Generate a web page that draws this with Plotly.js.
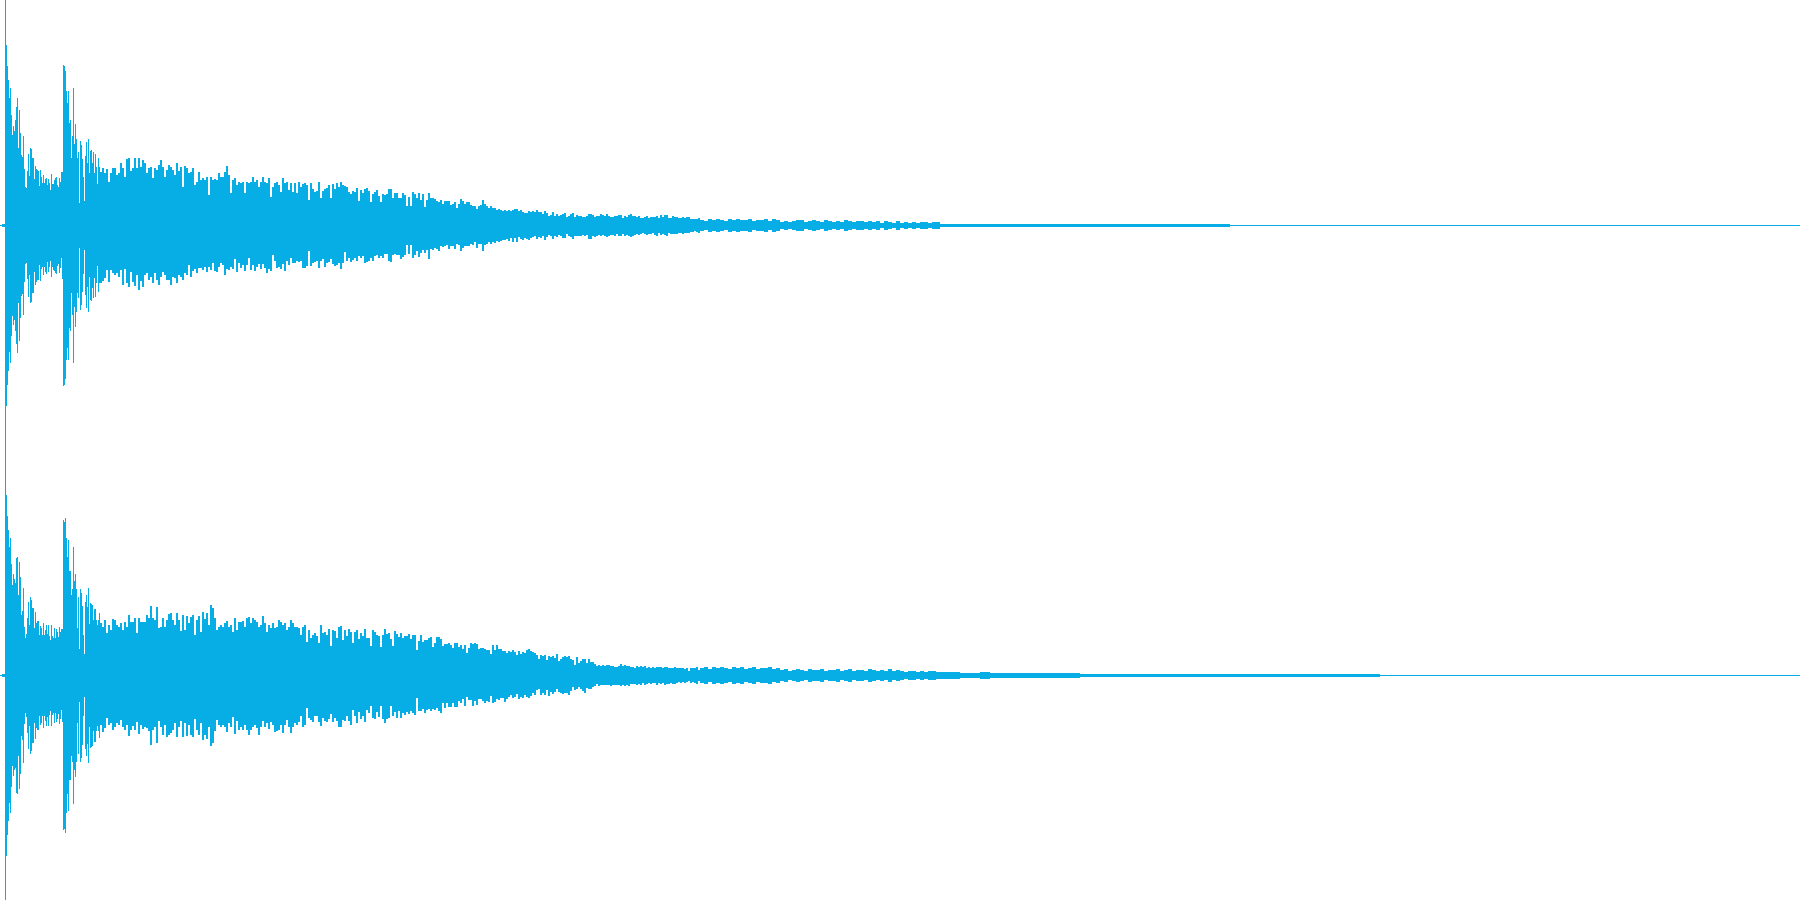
<!DOCTYPE html>
<html>
<head>
<meta charset="utf-8">
<script src="https://cdn.plot.ly/plotly-3.0.1.min.js"></script>
<style>html,body{margin:0;padding:0;background:#fff}#chart{width:1800px;height:900px}</style>
</head>
<body>
<div id="chart"></div>
<script>
// Envelope of a stereo waveform: amplitude on a scale where 225 = full scale.
var leadUpper = [0, 1];
var leadLower = [1, 2];
var leadDurations = [2, 3];
var tailUpper = [0];
var tailLower = [1];
var tailDurations = [400];
var sectionStepA = 1, sectionStepB = 2, sectionStepC = 2, sectionStepD = 4, sectionStepE = 10;

// Channel 1, upper peaks
var ch1UpperA = [
225,180,159,145,127,137,110,90,99,94,
105,118,127,77,115,92,70,68,89,56,
38,37,54,71,49,77,76,67,67,46,
59,56,55,54,39,55,48,42,50,42,
46,47,40,46,42,35,51,41,41,45,
47,48,40,38,47,43,53,53,160,159,
154,134,122,134,102,105,67,89,137,81,
101,86,67,73,22,84,80,66,48,24,
69,83,62,86,52,74,75,62,73,52,
71,58,41,67,58];
var ch1UpperB = [
53,57,52,56,43,52,57,57,50,52,
62,57,48,66,67,54,57,67,57,67,
58,65,62,52,57,58,47,57,55,60,
65,58,48,55,60,58,55,50,62,54,
58,38,59,57,52,53,57,40,43,53,
45,47,45,48,30,48,45,46,45,52,
48,48,53,59,50,32,45,47,40,43,
42,43,32,43,42,43,48,43,45,38,
43,48,43,42,47,28,38,42,43,40,
33,47,42,43,35,42,33,42,32,43];
var ch1UpperC = [
38,41,42,40,25,42,36,33,34,43,
27,34,36,37,40,27,41,36,42,38,
43,40,39,38,33,31,34,33,37,24,
35,32,36,37,34,23,31,33,35,29,
23,31,30,31,36,36,27,32,32,27,
27,32,30,19,28,19,33,31,27,32,
25,31,18,25,32,27,27,26,24,23,
25,21,24,24,24,20,21,23,17,21,
26,24,21,23,23,20,19,19,16,19,
20,25,21,19,17,19,17,17,15,16,
15,14,15,14,15,14,15,16,16,14,
15,13,12,12,14,13,14,13,15,13,
13,11,14,12,9,10,13,9,11,9,
10,11,12,8,9,11,12,8,10,9,
9,8,8,9,11,11,10,8,9,9,
11,10,9,11,9,8,8,9,9,10,
10,7,9,8,10,11,9,9,8,9,
7,7,8,9,7,8,8,8,9,7,
10,8,10,10,7,7,9,8,8,7,
7,8,7,8,8,6,6,6,6,7];
var ch1UpperD = [
5,4,6,5,6,5,4,6,5,6,
5,5,6,4,5,5,6,4,6,5,
3,4,3,4,5,5,3,4,5,4,
3,5,4,3,4,3,5,4,3,4,
4,3,4,3,4,2,4,3,2,4,
2,3,2,3,2,3,3,2,3,3];
var ch1UpperE = [
1,1,1,1,1,1,1,1,1,1,
1,1,1,1,1,1,1,1,1,1,
1,1,1,1,1,1,1,1,1,0,
0,0,0,0,0,0,0,0,0,0,
0,0,0,0,0,0];

// Channel 1, lower peaks
var ch1LowerA = [
225,181,160,146,127,138,111,91,100,95,
106,119,128,78,116,93,71,69,90,57,
39,38,54,72,50,78,77,68,68,47,
60,57,55,55,40,56,44,42,50,42,
47,49,37,47,42,36,52,42,45,46,
48,49,41,39,48,43,33,54,161,160,
154,135,123,135,103,106,68,90,138,82,
102,87,68,73,23,85,80,67,49,25,
70,83,62,87,52,75,76,63,73,53,
72,58,41,67,58];
var ch1LowerB = [
58,56,53,45,57,45,48,50,48,52,
45,60,44,58,62,47,57,61,50,65,
56,62,50,48,55,52,58,48,55,60,
52,47,50,55,55,60,52,53,58,50,
52,55,48,50,40,52,46,44,48,43,
43,45,42,47,42,45,38,46,47,42,
38,40,50,44,45,42,44,34,47,38,
43,40,46,40,33,45,40,46,42,39,
44,39,43,48,44,46,30,36,43,42,
44,39,46,36,40,33,38,38,36,37];
var ch1LowerC = [
36,43,43,41,26,41,38,37,36,43,
36,34,42,38,37,34,39,41,40,38,
44,38,27,36,33,37,35,33,36,31,
33,31,38,37,36,33,36,31,30,33,
31,33,29,29,36,37,30,29,30,30,
34,32,30,20,29,20,33,30,26,32,
28,25,28,25,34,24,25,23,24,26,
21,22,21,20,24,21,21,24,19,20,
26,23,21,21,21,19,20,17,23,19,
19,26,20,19,17,19,17,18,16,17,
16,15,15,14,16,13,17,13,17,12,
14,15,13,14,15,13,12,11,14,12,
13,11,15,12,10,11,14,11,12,10,
11,13,13,9,11,12,14,11,11,11,
11,10,11,10,14,14,11,12,11,10,
11,10,11,12,11,10,10,11,9,11,
11,9,11,10,11,12,11,10,9,10,
9,8,9,10,9,9,8,10,11,8,
10,9,10,11,8,9,9,9,9,8,
8,9,8,8,8,7,7,6,7,8];
var ch1LowerD = [
6,5,7,6,7,6,5,7,6,7,
6,6,7,5,6,6,7,5,7,6,
4,5,4,5,6,6,4,5,6,5,
4,6,5,4,5,4,6,5,4,5,
5,4,5,4,5,3,5,4,3,5,
3,4,3,4,3,4,4,3,4,4];
var ch1LowerE = [
2,2,2,2,2,2,2,2,2,2,
2,2,2,2,2,2,2,2,2,2,
2,2,2,2,2,2,2,2,2,1,
1,1,1,1,1,1,1,1,1,1,
1,1,1,1,1,1];

// Channel 2, upper peaks
var ch2UpperA = [
225,180,159,145,128,137,111,90,101,96,
92,117,118,80,113,98,60,64,87,48,
37,41,57,73,50,78,75,67,67,47,
63,52,54,54,40,49,47,40,52,40,
45,50,41,50,39,35,50,39,37,47,
37,46,43,38,48,43,46,46,155,153,
157,137,118,135,104,104,80,86,128,94,
101,86,47,78,26,86,82,69,40,21,
73,80,68,87,51,72,71,70,55,66,
66,55,50,55,62];
var ch2UpperB = [
52,48,55,42,50,45,56,55,50,48,
52,45,53,48,60,53,53,57,42,57,
53,53,53,60,57,69,57,55,68,47,
48,57,48,55,61,62,55,50,62,55,
44,60,45,59,52,58,60,40,55,59,
43,63,56,62,50,70,67,57,45,48,
50,48,52,54,48,50,43,57,45,53,
53,54,48,57,58,52,57,55,53,48,
50,59,52,43,50,47,52,47,48,55,
53,50,52,45,48,55,52,48,48,47];
var ch2UpperC = [
40,48,50,33,45,37,40,42,39,32,
50,42,43,40,46,29,45,44,37,48,
49,35,45,39,46,43,32,43,45,36,
42,39,46,37,37,29,45,43,40,39,
28,40,46,41,42,36,29,44,41,38,
42,37,39,39,41,36,40,40,25,34,
40,33,35,35,37,38,28,32,38,38,
36,29,31,31,32,30,27,32,32,28,
30,26,30,22,27,32,31,32,31,26,
27,27,26,25,25,21,30,25,30,26,
26,24,24,22,24,23,25,23,20,24,
21,23,22,25,26,24,23,22,20,16,
20,19,20,15,19,18,19,17,21,14,
16,18,19,18,19,16,15,10,18,12,
14,16,16,12,16,13,13,11,9,10,
9,10,9,10,10,9,9,8,8,9,
11,9,10,9,9,8,8,7,9,8,
9,8,9,7,8,7,8,7,8,8,
8,7,8,8,7,7,7,8,7,7,
7,7,6,7,4,7,7,7,8,5];
var ch2UpperD = [
7,8,6,8,7,8,7,6,8,7,
8,6,7,8,6,7,7,8,6,7,
5,6,4,5,6,5,4,6,5,5,
6,4,5,5,6,4,5,6,4,5,
5,4,6,5,4,5,4,6,4,5,
4,3,4,4,3,4,3,4,4,3];
var ch2UpperE = [
3,3,2,2,3,2,2,2,2,2,
2,2,2,2,1,1,1,1,1,1,
1,1,1,1,1,1,1,1,1,1,
1,1,1,1,1,1,1,1,1,1,
1,1,1,1,0,0];

// Channel 2, lower peaks
var ch2LowerA = [
225,181,160,146,128,138,112,91,101,95,
93,118,119,81,114,99,61,65,88,49,
38,42,58,74,51,79,76,68,68,48,
64,53,55,55,41,50,48,41,53,41,
46,51,42,51,40,36,51,40,38,48,
38,47,44,39,49,44,35,47,155,154,
158,138,119,136,105,105,81,87,129,95,
102,87,48,79,27,87,83,70,41,22,
74,81,69,88,52,73,72,71,56,67,
67,56,51,56,63];
var ch2LowerB = [
50,57,53,43,50,48,55,52,48,50,
45,52,55,50,61,55,51,55,47,59,
50,54,52,53,56,70,55,52,68,46,
52,60,50,62,60,58,55,48,62,52,
46,62,48,61,50,60,62,44,55,60,
48,65,60,64,52,71,68,56,45,50,
52,50,52,57,48,52,42,59,46,55,
52,55,50,55,60,55,52,50,53,60,
52,46,52,48,54,47,50,57,56,55,
50,58,50,45,52,58,52,48,50,47];
var ch2LowerC = [
41,52,50,33,43,45,47,41,41,47,
51,43,46,47,44,39,47,43,46,52,
52,45,46,41,46,50,35,41,48,37,
44,41,47,35,38,31,43,44,37,42,
31,44,48,44,43,31,41,37,43,36,
43,38,40,37,39,36,38,40,23,36,
36,34,38,35,34,36,34,35,33,36,
38,28,33,28,32,32,28,32,32,26,
28,24,31,22,25,25,31,26,30,24,
24,26,28,26,27,21,28,27,24,25,
23,23,27,24,22,20,23,22,19,24,
22,23,20,22,23,21,18,20,15,14,
20,18,20,15,21,17,19,17,14,17,
18,19,18,18,20,16,12,15,14,12,
14,16,18,13,14,14,12,11,9,11,
10,10,10,10,10,11,10,10,10,10,
11,10,11,10,11,9,9,9,10,9,
10,8,10,9,8,9,8,8,10,8,
9,8,10,9,9,8,9,9,8,7,
8,7,8,7,6,8,7,8,9,6];
var ch2LowerD = [
8,9,7,9,8,9,8,7,9,8,
9,7,8,9,7,8,8,9,7,8,
6,7,5,6,7,6,5,7,6,6,
7,5,6,6,7,5,6,7,5,6,
6,5,7,6,5,6,5,7,5,6,
5,4,5,5,4,5,4,5,5,4];
var ch2LowerE = [
4,4,3,3,4,3,3,3,3,3,
3,3,3,3,2,2,2,2,2,2,
2,2,2,2,2,2,2,2,2,2,
2,2,2,2,2,2,2,2,2,2,
2,2,2,2,1,1];

function fill(n, v){ var a = []; for (var i = 0; i < n; i++) a.push(v); return a; }
var durations = leadDurations
  .concat(fill(ch1UpperA.length, sectionStepA))
  .concat(fill(ch1UpperB.length, sectionStepB))
  .concat(fill(ch1UpperC.length, sectionStepC))
  .concat(fill(ch1UpperD.length, sectionStepD))
  .concat(fill(ch1UpperE.length, sectionStepE))
  .concat(tailDurations);

function channel(up, low, yaxis){
  var upper = leadUpper.concat(up[0], up[1], up[2], up[3], up[4], tailUpper);
  var lower = leadLower.concat(low[0], low[1], low[2], low[3], low[4], tailLower);
  if (upper.length !== durations.length || lower.length !== durations.length)
    throw new Error('length mismatch ' + yaxis + ' ' + upper.length + ' ' + lower.length + ' ' + durations.length);
  var x = [], y = [], base = [], t = 0;
  for (var i = 0; i < durations.length; i++){
    x.push(t + durations[i] / 2);
    y.push(upper[i] + lower[i]);
    base.push(-lower[i]);
    t += durations[i];
  }
  return {type:'bar', x:x, y:y, base:base, width:durations, xaxis:'x', yaxis:yaxis,
          marker:{color:'#06aee5', line:{width:0}}, hoverinfo:'skip', showlegend:false};
}

var data = [
  channel([ch1UpperA, ch1UpperB, ch1UpperC, ch1UpperD, ch1UpperE], [ch1LowerA, ch1LowerB, ch1LowerC, ch1LowerD, ch1LowerE], 'y'),
  channel([ch2UpperA, ch2UpperB, ch2UpperC, ch2UpperD, ch2UpperE], [ch2LowerA, ch2LowerB, ch2LowerC, ch2LowerD, ch2LowerE], 'y2')
];
var hidden = {visible:false, fixedrange:true, showgrid:false, zeroline:false};
var layout = {
  width:1800, height:900, margin:{l:0,r:0,t:0,b:0,pad:0},
  paper_bgcolor:'#ffffff', plot_bgcolor:'#ffffff', showlegend:false, barmode:'overlay',
  xaxis:Object.assign({range:[0,1800], domain:[0,1]}, hidden),
  yaxis:Object.assign({range:[-225,225], domain:[0.5,1]}, hidden),
  yaxis2:Object.assign({range:[-225,225], domain:[0,0.5]}, hidden)
};
Plotly.newPlot('chart', data, layout, {displayModeBar:false});
</script>
</body>
</html>
